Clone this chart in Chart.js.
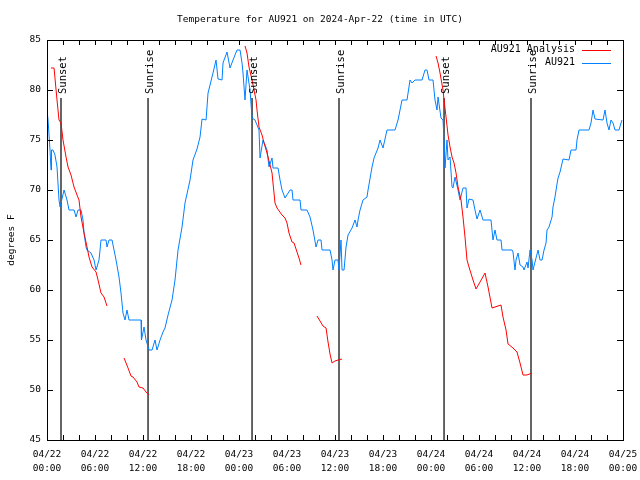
<!DOCTYPE html>
<html>
<head>
<meta charset="utf-8">
<script src="https://cdn.jsdelivr.net/npm/chart.js@4"></script>
<style>
  body { margin: 0; background: #fff; }
  canvas { display: block; }
</style>
</head>
<body>
<canvas id="chart" width="640" height="480"></canvas>
<script>
// hours since 2024-04-22 00:00 UTC
const obsHours = [0.00, 0.13, 0.38, 0.50, 0.56, 0.75, 1.00, 1.25, 1.50, 1.63, 2.13, 2.50, 2.75, 3.38, 3.63, 3.88, 4.25, 4.50, 4.63, 4.88,
  5.00, 5.50, 5.88, 6.13, 6.50, 6.63, 6.75, 7.38, 7.50, 7.75, 8.13, 8.63, 9.00, 9.25, 9.50, 9.75, 10.00, 10.25, 11.75, 11.81,
  12.13, 12.38, 12.75, 13.13, 13.50, 13.75, 14.13, 14.50, 14.75, 15.13, 15.63, 16.00, 16.38, 16.88, 17.25, 17.88, 18.25, 18.75, 19.13, 19.38,
  19.88, 20.13, 20.38, 20.75, 21.13, 21.38, 21.88, 22.00, 22.50, 22.88, 23.25, 23.75, 24.13, 24.38, 24.50, 24.75, 25.00, 25.38, 25.63, 26.00,
  26.50, 26.63, 27.00, 27.50, 27.75, 28.13, 28.25, 28.88, 29.13, 29.38, 29.75, 30.38, 30.63, 30.75, 31.63, 31.75, 32.50, 32.88, 33.25, 33.63,
  33.88, 34.25, 34.38, 35.38, 35.63, 35.75, 36.00, 36.38, 36.50, 36.75, 36.88, 37.13, 37.38, 37.63, 38.13, 38.50, 38.75, 38.88, 39.13, 39.50,
  40.00, 40.13, 40.63, 40.88, 41.38, 41.63, 42.00, 42.50, 43.50, 43.88, 44.38, 45.00, 45.38, 45.63, 46.00, 46.88, 47.25, 47.50, 47.75, 48.25,
  48.50, 48.75, 48.88, 49.25, 49.50, 49.63, 49.75, 50.00, 50.13, 50.38, 50.63, 50.75, 51.00, 51.38, 51.63, 52.00, 52.38, 52.50, 52.75, 53.25,
  53.50, 53.75, 54.13, 54.50, 55.50, 55.75, 56.00, 56.25, 56.75, 56.88, 58.13, 58.25, 58.50, 58.63, 58.88, 59.13, 59.50, 59.63, 60.00, 60.13,
  60.38, 60.63, 60.75, 61.00, 61.38, 61.63, 61.88, 62.13, 62.38, 62.50, 62.75, 63.13, 63.25, 63.50, 63.75, 63.88, 64.13, 64.50, 65.25, 65.50,
  66.13, 66.25, 66.50, 67.75, 68.00, 68.25, 68.50, 69.50, 69.75, 70.00, 70.25, 70.50, 70.75, 71.00, 71.50, 71.75, 71.88];
const obsTemps = [78, 77, 74, 72, 74, 74, 73.5, 72.3, 69, 68.3, 70, 69, 68, 68, 67.3, 68, 68, 67, 65.7, 64.3,
  64, 63.7, 63, 62, 63, 64, 65, 65, 64.3, 65, 65, 63, 61.3, 59.7, 57.7, 57, 58, 57, 57, 55,
  56.3, 55, 54, 54, 55, 54, 55, 55.8, 56.2, 57.5, 59, 61, 64, 66.3, 68.7, 71, 73, 74.1, 75.3, 77.1,
  77, 79.7, 80.5, 81.7, 83, 81.1, 81, 82.7, 83.8, 82.2, 83, 84, 84, 82.7, 81.7, 79, 82, 80, 77.2, 77,
  76, 73.2, 75, 74, 72.3, 73.2, 72.2, 72.2, 71, 70, 69.2, 70, 70, 69, 69, 68, 68, 67.3, 66, 64.3,
  65, 65, 64, 64, 63, 62, 63, 63, 62, 65, 62, 62, 64.3, 65.5, 66.2, 67, 66.3, 67, 68, 69,
  69.3, 70, 72.3, 73.2, 74.2, 75, 74.2, 76, 76, 77, 79, 79, 81, 80.7, 81, 81, 82, 82, 81, 81,
  79, 78, 79.3, 77.2, 77, 75, 72.2, 75, 73, 73.3, 70.3, 70.2, 71.3, 70, 69, 70.2, 70.2, 68.2, 69.1, 69,
  68, 67.1, 68, 67, 67, 65, 66, 65, 65, 64, 64, 63.8, 62, 63, 63.7, 62.5, 62.3, 62, 62.8, 62.2,
  64, 63, 62, 62.8, 64, 63, 63, 64, 64.7, 66, 66.3, 67.3, 68.3, 69.3, 70.6, 71.2, 71.8, 73.1, 73, 74,
  74, 75, 76, 76, 76.7, 78, 77.1, 77, 78, 76.7, 76, 77, 76.7, 76, 76, 76.7, 77];

// analysis; null marks a gap in the run
const anaHours = [0.50, 0.88, 1.25, 1.50, 1.75, 2.00, 2.38, 2.63, 3.00, 3.38, 3.75, 4.00, 4.25, 4.63, 5.00, 5.25, 5.63, 6.13, 6.38, 6.75,
  7.13, 7.50, 8.50, 9.63, 10.13, 10.50, 10.75, 11.25, 11.50, 12.00, 12.38, 12.75, 18.00,
  24.75, 25.00, 25.25, 25.63, 25.88, 26.13, 26.25, 26.50, 26.88, 27.13, 27.50, 27.88, 28.13, 28.25, 28.50, 28.75, 29.38, 29.75, 30.00, 30.25,
  30.63, 30.88, 31.25, 31.50, 31.75, 32.50, 33.75, 34.13, 34.50, 34.88, 35.13, 35.38, 35.63, 36.00, 36.38, 36.88, 42.00,
  48.63, 48.88, 49.13, 49.50, 49.63, 49.88, 50.13, 50.38, 50.63, 50.88, 51.13, 51.38, 51.75, 52.00, 52.25, 52.50, 52.75, 53.25, 53.63, 54.13,
  54.75, 55.13, 55.63, 56.00, 56.75, 57.00, 57.38, 57.63, 58.25, 58.75, 59.13, 59.50, 60.00, 60.63];
const anaTemps = [82.2, 82.2, 79, 77, 76.7, 75, 73.3, 72.3, 71.5, 70.3, 69.5, 69, 67.3, 65.7, 64.3, 63.3, 62.3, 61.8, 61, 59.7,
  59.3, 58.4, null, 53.2, 52.2, 51.4, 51.3, 50.8, 50.3, 50.2, 49.8, 49.5, null,
  84.4, 83.7, 82.3, 81, 80, 79, 78, 76.3, 75.5, 74.7, 73.7, 72.5, 71.7, 70.7, 68.7, 68.2, 67.5, 67.2, 66.7, 65.7,
  64.8, 64.7, 63.8, 63.2, 62.5, null, 57.4, 56.9, 56.4, 56.2, 54.8, 53.6, 52.7, 52.9, 53, 53.1, null,
  83.4, 82.7, 81.7, 80, 79, 77.3, 75.5, 74.3, 73.3, 72.7, 71.7, 70.3, 69, 67.3, 65.3, 63, 62.3, 61, 60.1, 60.8,
  61.7, 60.3, 58.2, 58.3, 58.5, 57.3, 56, 54.6, 54.2, 53.8, 52.7, 51.5, 51.5, 51.7];

const sunsetHours = [1.75, 25.63, 49.63];
const sunriseHours = [12.63, 36.5, 60.5];

const tickDates = ['04/22', '04/22', '04/22', '04/22', '04/23', '04/23', '04/23', '04/23', '04/24', '04/24', '04/24', '04/24', '04/25'];
const tickTimes = ['00:00', '06:00', '12:00', '18:00', '00:00', '06:00', '12:00', '18:00', '00:00', '06:00', '12:00', '18:00', '00:00'];

const MONO = '"DejaVu Sans Mono", "Liberation Mono", monospace';
const RED = 'rgb(255,0,0)';
const BLUE = 'rgb(0,128,255)';

function toPoints(xs, ys) {
    return xs.map((x, i) => ({ x: x, y: ys[i] }));
}

let sunEvents = [];
sunsetHours.forEach(h => sunEvents.push({ h: h, name: 'Sunset' }));
sunriseHours.forEach(h => sunEvents.push({ h: h, name: 'Sunrise' }));

let datasets = [
    {
        label: 'AU921 Analysis',
        data: toPoints(anaHours, anaTemps),
        borderColor: RED,
        borderWidth: 1,
        pointRadius: 0,
        spanGaps: false,
        order: 0
    },
    {
        label: 'AU921',
        data: toPoints(obsHours, obsTemps),
        borderColor: BLUE,
        borderWidth: 1,
        pointRadius: 0,
        order: 1
    }
];
// sun lines run from just under their label down to the axis
sunEvents.forEach(ev => {
    datasets.push({
        label: ev.name,
        data: [{ x: ev.h, y: 79.2 }, { x: ev.h, y: 45 }],
        borderColor: '#000',
        borderWidth: 1.2,
        pointRadius: 0,
        order: 2
    });
});

const gnuplotLook = {
    id: 'gnuplotLook',
    afterDraw(chart) {
        const ctx = chart.ctx;
        const area = chart.chartArea;
        const xs = chart.scales.x;
        const ys = chart.scales.y;
        ctx.save();
        ctx.strokeStyle = '#000';
        ctx.lineWidth = 1;

        // frame
        ctx.strokeRect(Math.round(area.left) + 0.5, Math.round(area.top) + 0.5,
            Math.round(area.right - area.left), Math.round(area.bottom - area.top));

        // inward ticks
        ctx.beginPath();
        for (let h = 0; h <= 72; h += 2) {
            let px = Math.round(xs.getPixelForValue(h)) + 0.5;
            ctx.moveTo(px, area.bottom); ctx.lineTo(px, area.bottom - 5);
            ctx.moveTo(px, area.top); ctx.lineTo(px, area.top + 5);
        }
        for (let v = 45; v <= 85; v += 5) {
            let py = Math.round(ys.getPixelForValue(v)) + 0.5;
            ctx.moveTo(area.left, py); ctx.lineTo(area.left + 6, py);
            ctx.moveTo(area.right, py); ctx.lineTo(area.right - 6, py);
        }
        ctx.stroke();

        ctx.fillStyle = '#000';

        // sunrise / sunset labels
        ctx.font = '10.5px ' + MONO;
        sunEvents.forEach(ev => {
            let px = xs.getPixelForValue(ev.h);
            ctx.save();
            ctx.translate(px + 2, 94);
            ctx.rotate(-Math.PI / 2);
            ctx.textAlign = 'left';
            ctx.textBaseline = 'middle';
            ctx.fillText(ev.name, 0, 0);
            ctx.restore();
        });

        // legend
        ctx.font = '10px ' + MONO;
        ctx.textAlign = 'right';
        ctx.textBaseline = 'middle';
        let entries = [['AU921 Analysis', RED], ['AU921', BLUE]];
        entries.forEach((e, i) => {
            let y = 49.5 + i * 13;
            ctx.fillStyle = '#000';
            ctx.fillText(e[0], 575, y);
            ctx.strokeStyle = e[1];
            ctx.beginPath();
            ctx.moveTo(582, Math.round(y) + 0.5);
            ctx.lineTo(611, Math.round(y) + 0.5);
            ctx.stroke();
        });

        // title
        ctx.fillStyle = '#000';
        ctx.font = '9.5px ' + MONO;
        ctx.textAlign = 'center';
        ctx.fillText('Temperature for AU921 on 2024-Apr-22 (time in UTC)', 320, 20);

        // y axis title
        ctx.save();
        ctx.translate(12, 240);
        ctx.rotate(-Math.PI / 2);
        ctx.textAlign = 'center';
        ctx.textBaseline = 'middle';
        ctx.fillText('degrees F', 0, 0);
        ctx.restore();

        ctx.restore();
    }
};

new Chart(document.getElementById('chart').getContext('2d'), {
    type: 'line',
    data: { datasets: datasets },
    options: {
        responsive: false,
        animation: false,
        devicePixelRatio: 1,
        layout: { padding: { top: 40, right: 17, left: 0, bottom: 0 } },
        plugins: {
            legend: { display: false },
            tooltip: { enabled: false }
        },
        scales: {
            x: {
                type: 'linear',
                min: 0,
                max: 72,
                grid: { display: false, drawTicks: false },
                border: { display: false },
                afterFit: scale => {
                    scale.height = 40;
                    scale.paddingLeft = 0;
                    scale.paddingRight = 0;
                },
                ticks: {
                    stepSize: 6,
                    autoSkip: false,
                    maxRotation: 0,
                    padding: 8,
                    color: '#000',
                    font: { family: MONO, size: 9.5, lineHeight: 1.45 },
                    callback: (value) => {
                        let i = Math.round(value / 6);
                        return [tickDates[i], tickTimes[i]];
                    }
                }
            },
            y: {
                min: 45,
                max: 85,
                grid: { display: false, drawTicks: false },
                border: { display: false },
                afterFit: scale => {
                    scale.width = 47;
                    scale.paddingTop = 0;
                    scale.paddingBottom = 0;
                },
                ticks: {
                    stepSize: 5,
                    padding: 6,
                    color: '#000',
                    font: { family: MONO, size: 9.5 }
                }
            }
        }
    },
    plugins: [gnuplotLook]
});
</script>
</body>
</html>
